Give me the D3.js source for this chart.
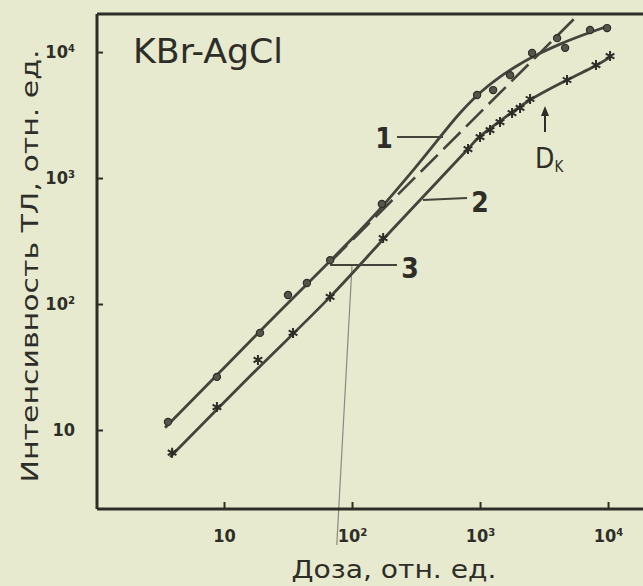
<!DOCTYPE html>
<html>
<head>
<meta charset="utf-8">
<script src="https://cdn.jsdelivr.net/npm/d3@7/dist/d3.min.js"></script>
<style>
  html, body { margin: 0; padding: 0; background: #e7eacf; }
  svg { display: block; }
</style>
</head>
<body>
<svg id="chart" width="643" height="586"></svg>
<script>
// ---------------- DATA ----------------
const doseTicks = [10, 100, 1000, 10000];
const doseTickLabels = ["10", "10²", "10³", "10⁴"];
const intensityTicks = [10, 100, 1000, 10000];
const intensityTickLabels = ["10", "10²", "10³", "10⁴"];

// Curve 1 (solid, dots) – drawn line and measured points
const curve1LineDose = [3.46, 22.9, 138, 310, 698, 1000, 1432, 2054, 2943, 4217, 6607, 9820];
const curve1LineInt  = [10.4, 73.3, 464, 1200, 3280, 4750, 6350, 8040, 9770, 11560, 13840, 15960];
const curve1PtDose = [3.65, 8.8, 19.1, 31.6, 44.4, 67.5, 171, 948, 1265, 1716, 2550, 4000, 4620, 7230, 9820];
const curve1PtInt  = [11.6, 26.4, 59, 118, 147, 223, 622, 4560, 4990, 6560, 9820, 12900, 10800, 14960, 15500];

// Curve 2 (solid, crosses)
const curve2LineDose = [3.79, 16.0, 67.4, 198, 791, 964, 1432, 2460, 4780, 7910, 10370];
const curve2LineInt  = [6.1, 26.8, 114, 373, 1667, 2075, 2830, 4160, 6000, 7740, 9120];
const curve2PtDose = [3.93, 8.8, 18.4, 34.6, 67.4, 175, 805, 1000, 1197, 1432, 1778, 2054, 2460, 4780, 8050, 10370];
const curve2PtInt  = [6.6, 15.2, 36, 59, 114, 334, 1698, 2113, 2404, 2780, 3280, 3600, 4240, 6000, 7890, 9290];

// Curve 3 (dashed, linear extrapolation)
const curve3Dose = [67.4, 5830];
const curve3Int  = [215, 19700];

// ---------------- LAYOUT ----------------
const W = 643, H = 586;
const pLeft = 97, pRight = 643, pTop = 14, pBottom = 509;
const ink = "#2e2e28";
const lineInk = "#44443d";
const narrow = '"Liberation Sans Narrow", "DejaVu Sans Condensed", "Roboto Condensed", sans-serif';

const svg = d3.select("#chart");
svg.append("rect").attr("width", W).attr("height", H).attr("fill", "#e7eacf");

const x = d3.scaleLog().domain([1.018, 18750]).range([pLeft, pRight]);
const y = d3.scaleLog().domain([2.36, 20050]).range([pBottom, pTop]);

// faint scan artefact line
svg.append("line")
  .attr("x1", x(100)).attr("y1", y(204))
  .attr("x2", x(76)).attr("y2", 545)
  .attr("stroke", "#8a8a80").attr("stroke-width", 1.2);

// axes frame
svg.append("line").attr("x1", pLeft).attr("x2", pRight).attr("y1", pBottom).attr("y2", pBottom)
  .attr("stroke", ink).attr("stroke-width", 3);
svg.append("line").attr("x1", pLeft).attr("x2", pLeft).attr("y1", pTop).attr("y2", pBottom)
  .attr("stroke", ink).attr("stroke-width", 3);
svg.append("line").attr("x1", pLeft).attr("x2", pRight).attr("y1", pTop).attr("y2", pTop)
  .attr("stroke", ink).attr("stroke-width", 3);

// ticks (inward)
const xAxis = d3.axisBottom(x).tickValues(doseTicks).tickSize(-7).tickFormat((d, i) => doseTickLabels[i]).tickPadding(17);
const gx = svg.append("g").attr("transform", `translate(0,${pBottom})`).call(xAxis);
gx.select(".domain").remove();
gx.selectAll(".tick line").attr("stroke", ink).attr("stroke-width", 2);
gx.selectAll(".tick text").attr("fill", ink).attr("font-family", narrow).attr("font-weight", "bold")
  .attr("font-size", 18).attr("dy", "0.9em");

const yAxis = d3.axisLeft(y).tickValues(intensityTicks).tickSize(-6).tickFormat((d, i) => intensityTickLabels[i]).tickPadding(22);
const gy = svg.append("g").attr("transform", `translate(${pLeft},0)`).call(yAxis);
gy.select(".domain").remove();
gy.selectAll(".tick line").attr("stroke", ink).attr("stroke-width", 2);
gy.selectAll(".tick text").attr("fill", ink).attr("font-family", narrow).attr("font-weight", "bold")
  .attr("font-size", 18);

// axis titles
svg.append("text")
  .attr("transform", `translate(38,${266}) rotate(-90)`)
  .attr("text-anchor", "middle")
  .attr("font-family", narrow).attr("font-size", 23).attr("fill", ink)
  .attr("textLength", 433).attr("lengthAdjust", "spacingAndGlyphs")
  .text("Интенсивность ТЛ, отн. ед.");
svg.append("text")
  .attr("x", 394).attr("y", 578)
  .attr("text-anchor", "middle")
  .attr("font-family", narrow).attr("font-size", 24).attr("fill", ink)
  .attr("textLength", 205).attr("lengthAdjust", "spacingAndGlyphs")
  .text("Доза, отн. ед.");

// title
svg.append("text")
  .attr("x", 133).attr("y", 63)
  .attr("font-family", narrow).attr("font-size", 33).attr("fill", ink)
  .attr("textLength", 150).attr("lengthAdjust", "spacingAndGlyphs")
  .text("KBr-AgCl");

// curves
const line = d3.line().x(d => x(d[0])).y(d => y(d[1])).curve(d3.curveCatmullRom.alpha(0.5));
const zip = (a, b) => a.map((v, i) => [v, b[i]]);

svg.append("path").datum(zip(curve3Dose, curve3Int)).attr("d", line)
  .attr("fill", "none").attr("stroke", lineInk).attr("stroke-width", 2.6)
  .attr("stroke-dasharray", "24,8");

svg.append("path").datum(zip(curve1LineDose, curve1LineInt)).attr("d", line)
  .attr("fill", "none").attr("stroke", lineInk).attr("stroke-width", 2.8);
svg.append("path").datum(zip(curve2LineDose, curve2LineInt)).attr("d", line)
  .attr("fill", "none").attr("stroke", lineInk).attr("stroke-width", 2.8);

// markers
svg.append("g").selectAll("circle").data(zip(curve1PtDose, curve1PtInt)).join("circle")
  .attr("cx", d => x(d[0])).attr("cy", d => y(d[1])).attr("r", 3.6)
  .attr("fill", "#55554c").attr("stroke", ink).attr("stroke-width", 1.2);

const star = d3.symbol().type(d3.symbolAsterisk).size(70);
svg.append("g").selectAll("path").data(zip(curve2PtDose, curve2PtInt)).join("path")
  .attr("transform", d => `translate(${x(d[0])},${y(d[1])})`)
  .attr("d", star)
  .attr("fill", "none").attr("stroke", ink).attr("stroke-width", 2);

// curve labels and leaders
const labelFont = 28;
function leader(x1, y1, x2, y2) {
  svg.append("line").attr("x1", x1).attr("y1", y1).attr("x2", x2).attr("y2", y2)
    .attr("stroke", lineInk).attr("stroke-width", 2);
}
leader(397, 137, 443, 137);
svg.append("text").attr("x", 384).attr("y", 148).attr("text-anchor", "middle")
  .attr("font-family", narrow).attr("font-weight", "bold").attr("font-size", labelFont).attr("fill", ink).text("1");
leader(423, 200, 467, 198);
svg.append("text").attr("x", 480).attr("y", 212).attr("text-anchor", "middle")
  .attr("font-family", narrow).attr("font-weight", "bold").attr("font-size", labelFont).attr("fill", ink).text("2");
leader(330, 265, 397, 265);
svg.append("text").attr("x", 410).attr("y", 278).attr("text-anchor", "middle")
  .attr("font-family", narrow).attr("font-weight", "bold").attr("font-size", labelFont).attr("fill", ink).text("3");

// D_K arrow
svg.append("defs").append("marker").attr("id", "ah").attr("viewBox", "0 0 10 10")
  .attr("refX", 5).attr("refY", 5).attr("markerWidth", 5).attr("markerHeight", 7).attr("orient", "auto")
  .append("path").attr("d", "M0,1 L10,5 L0,9 Z").attr("fill", ink);
svg.append("line").attr("x1", 545).attr("y1", 132).attr("x2", 545).attr("y2", 111)
  .attr("stroke", ink).attr("stroke-width", 2).attr("marker-end", "url(#ah)");
const dk = svg.append("text").attr("x", 535).attr("y", 168)
  .attr("font-family", narrow).attr("font-size", 28).attr("fill", ink);
dk.append("tspan").text("D");
dk.append("tspan").attr("font-size", 15).attr("dy", 4).text("K");
</script>
</body>
</html>
